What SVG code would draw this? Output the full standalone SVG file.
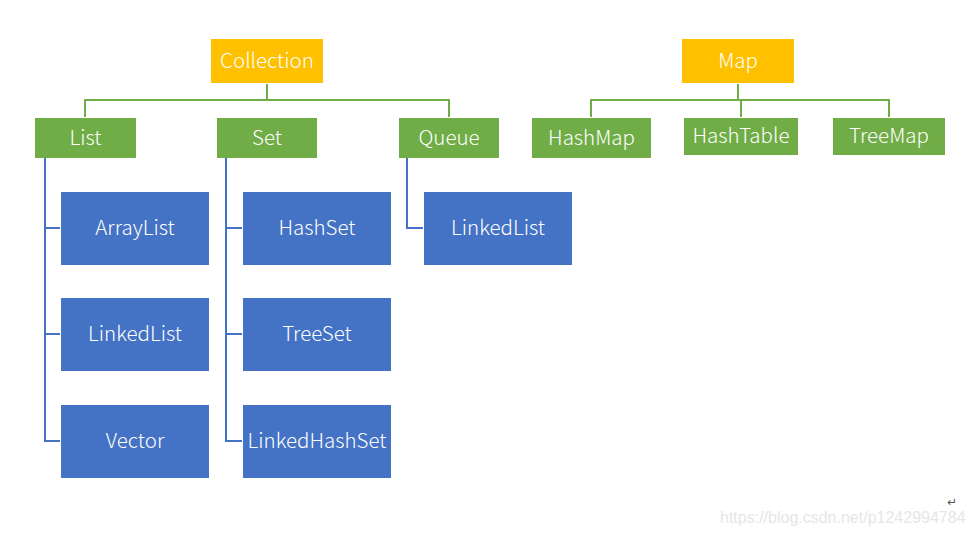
<svg xmlns="http://www.w3.org/2000/svg" width="972" height="534" viewBox="0 0 972 534">
<style>
.o{fill:#ffc000}.g{fill:#70ad47}.b{fill:#4472c4}
text.t{font-family:"Noto Sans CJK SC","Open Sans",sans-serif;font-weight:300;font-size:20.5px;fill:#fff;text-anchor:middle;dominant-baseline:central}
.gl{stroke:#70ad47;stroke-width:2;fill:none}
.bl{stroke:#4472c4;stroke-width:2;fill:none}
</style>
<rect width="972" height="534" fill="#fff"/>
<g id="connectors">
<path class="gl" d="M267 84V100M85 117V100H449V117"/>
<path class="gl" d="M738 84V100M591 117V100H889V117M741 100V117"/>
<path class="bl" d="M45 158V441H60M45 228H60M45 334H60"/>
<path class="bl" d="M226 158V441H242M226 228H242M226 334H242"/>
<path class="bl" d="M407 158V228H423"/>
</g>
<g id="collection"><rect class="o" x="211" y="39" width="112" height="44"/><text class="t" x="267" y="59">Collection</text></g>
<g id="map"><rect class="o" x="682" y="39" width="112" height="44"/><text class="t" x="738" y="59">Map</text></g>
<g id="list"><rect class="g" x="35" y="118" width="101" height="40"/><text class="t" x="85.5" y="136">List</text></g>
<g id="set"><rect class="g" x="217" y="118" width="100" height="40"/><text class="t" x="267" y="136">Set</text></g>
<g id="queue"><rect class="g" x="399" y="118" width="100" height="40"/><text class="t" x="449" y="136">Queue</text></g>
<g id="hashmap"><rect class="g" x="532" y="118" width="119" height="40"/><text class="t" x="591.5" y="136">HashMap</text></g>
<g id="hashtable"><rect class="g" x="684" y="118" width="114" height="37"/><text class="t" x="741" y="134">HashTable</text></g>
<g id="treemap"><rect class="g" x="833" y="118" width="112" height="37"/><text class="t" x="889" y="134">TreeMap</text></g>
<g id="arraylist"><rect class="b" x="61" y="192" width="148" height="73"/><text class="t" x="135" y="226">ArrayList</text></g>
<g id="linkedlist1"><rect class="b" x="61" y="298" width="148" height="73"/><text class="t" x="135" y="332">LinkedList</text></g>
<g id="vector"><rect class="b" x="61" y="405" width="148" height="73"/><text class="t" x="135" y="439">Vector</text></g>
<g id="hashset"><rect class="b" x="243" y="192" width="148" height="73"/><text class="t" x="317" y="226">HashSet</text></g>
<g id="treeset"><rect class="b" x="243" y="298" width="148" height="73"/><text class="t" x="317" y="332">TreeSet</text></g>
<g id="linkedhashset"><rect class="b" x="243" y="405" width="148" height="73"/><text class="t" x="317" y="439">LinkedHashSet</text></g>
<g id="linkedlist2"><rect class="b" x="424" y="192" width="148" height="73"/><text class="t" x="498" y="226">LinkedList</text></g>
<text x="720" y="523" style="font-family:'Liberation Sans',sans-serif;font-size:16px;fill:#e6e6e6">https://blog.csdn.net/p1242994784</text>
<text x="947" y="506" style="font-family:'DejaVu Sans',sans-serif;font-size:12px;fill:#555">↵</text>
</svg>
